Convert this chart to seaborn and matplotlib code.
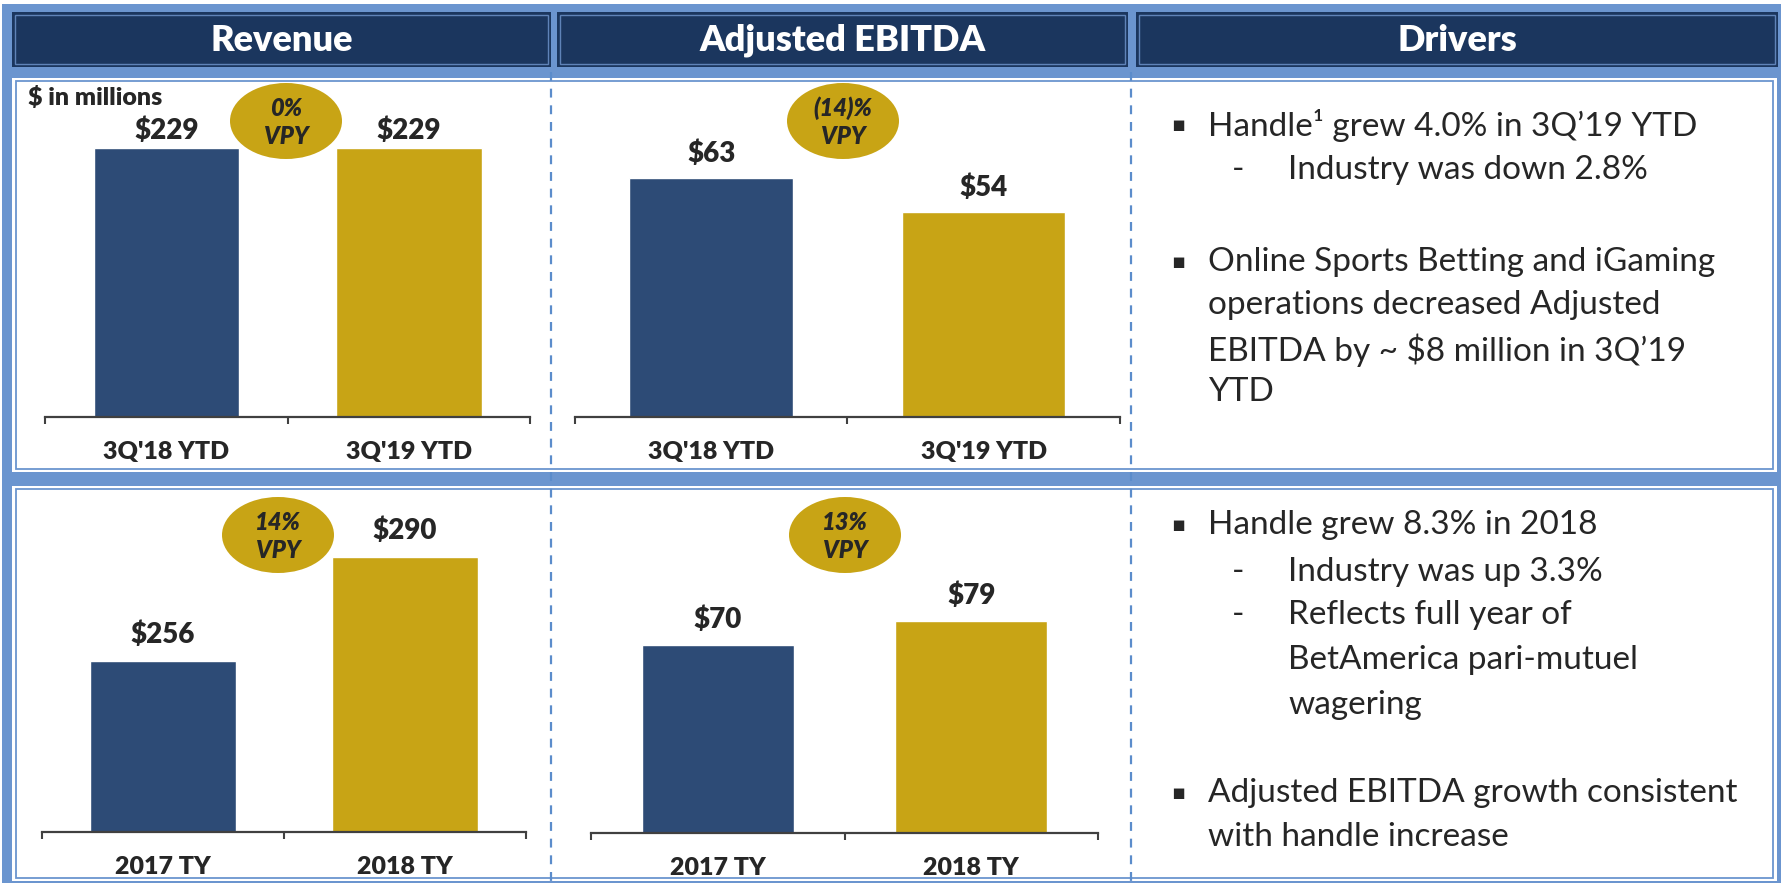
import pandas as pd
import seaborn as sns
import matplotlib.pyplot as plt
from matplotlib.patches import Rectangle, Ellipse

#---------------------------------DATA---------------------------------#
ytd_periods = ["3Q'18 YTD", "3Q'19 YTD"]
ytd_revenue = [229, 229]
ytd_ebitda = [63, 54]

ty_periods = ["2017 TY", "2018 TY"]
ty_revenue = [256, 290]
ty_ebitda = [70, 79]

vpy_labels = ["0%", "(14)%", "14%", "13%"]
headers = ["Revenue", "Adjusted EBITDA", "Drivers"]

drivers_top = [("b", "Handle\u00b9 grew 4.0% in 3Q\u201919 YTD"),
               ("d", "Industry was down 2.8%"),
               ("b", "Online Sports Betting and iGaming"),
               ("c", "operations decreased Adjusted"),
               ("c", "EBITDA by ~ $8 million in 3Q\u201919"),
               ("c", "YTD")]
drivers_bottom = [("b", "Handle grew 8.3% in 2018"),
                  ("d", "Industry was up 3.3%"),
                  ("d", "Reflects full year of"),
                  ("dc", "BetAmerica pari-mutuel"),
                  ("dc", "wagering"),
                  ("b", "Adjusted EBITDA growth consistent"),
                  ("c", "with handle increase")]

#--------------------------------STYLE---------------------------------#
sns.set_style('white')
plt.rcParams['font.family'] = ['Lato', 'DejaVu Sans']

NAVY = '#1b365e'
BLUE = '#2d4b76'
GOLD = '#c8a415'
LIGHT = '#6b95cf'
AXIS = '#404040'
HEAVY = 'heavy'

W, H = 1783, 886
fig = plt.figure(figsize=(W / 100, H / 100), dpi=100)


def px_rect(x0, y0, x1, y1):
    return [x0 / W, 1 - y1 / H, (x1 - x0) / W, (y1 - y0) / H]


# background layer in pixel coords
bg = fig.add_axes([0, 0, 1, 1], zorder=0, label='bg')
bg.set_xlim(0, W)
bg.set_ylim(H, 0)
bg.axis('off')

bg.add_patch(Rectangle((2, 4), W - 4, H - 7, color=LIGHT, lw=0))
for (x0, x1), name in zip([(12, 551), (557, 1128), (1136, 1778)], headers):
    bg.add_patch(Rectangle((x0, 12), x1 - x0, 55, color=NAVY, lw=0))
    bg.add_patch(Rectangle((x0 + 3, 15), x1 - x0 - 6, 49, fill=False,
                           ec='#5f83b8', lw=1))
    bg.text((x0 + x1) / 2, 40, name, color='white', fontsize=26,
            fontweight=HEAVY, ha='center', va='center')

for y0, y1 in [(78, 472), (486, 881)]:
    bg.add_patch(Rectangle((12, y0), 1765, y1 - y0, color='white', lw=0))
    bg.add_patch(Rectangle((16, y0 + 3), 1757, y1 - y0 - 6, fill=False,
                           ec=LIGHT, lw=1.3))

for x in [551, 1131]:
    bg.plot([x, x], [72, 882], color='#5b8ccb', lw=1.6,
            linestyle=(0, (4, 3.5)))

#--------------------------------CHARTS--------------------------------#
# (categories, values, axes box in px, y limits, label padding)
charts = [
    (ytd_periods, ytd_revenue, (45, 100, 530, 417), (0, 317 / 1.1747), 3),
    (ytd_periods, ytd_ebitda, (575, 100, 1120, 417), (0, 317 / 3.794), 8),
    (ty_periods, ty_revenue, (42, 500, 526, 832), (200, 200 + 332 / 3.06), 9),
    (ty_periods, ty_ebitda, (591, 500, 1098, 833), (0, 333 / 2.683), 9),
]

for cats, vals, box, ylim, pad in charts:
    ax = fig.add_axes(px_rect(*box), zorder=2)
    ax.patch.set_alpha(0)
    df = pd.DataFrame({'period': cats, 'value': vals})
    sns.barplot(data=df, x='period', y='value', hue='period',
                palette=[BLUE, GOLD], width=0.6, ax=ax, legend=False,
                saturation=1)
    ax.set_xlim(-0.5, 1.5)
    ax.set_ylim(*ylim)
    for c in ax.containers:
        ax.bar_label(c, labels=['$%d' % v for v in c.datavalues],
                     padding=pad, fontsize=20, fontweight=HEAVY)
    sns.despine(ax=ax, left=True)
    ax.spines['bottom'].set_color(AXIS)
    ax.spines['bottom'].set_linewidth(1.6)
    ax.set_yticks([])
    ax.set_xlabel('')
    ax.set_ylabel('')
    ax.set_xticks([-0.5, 0.5, 1.5], minor=True)
    ax.tick_params(axis='x', which='minor', length=5, width=1.5,
                   color=AXIS, direction='out', bottom=True)
    ax.tick_params(axis='x', which='major', length=0, pad=17)
    for t in ax.get_xticklabels():
        t.set_fontsize(18)
        t.set_fontweight(HEAVY)

#--------------------------------OVERLAY-------------------------------#
fg = fig.add_axes([0, 0, 1, 1], zorder=5, label='fg')
fg.set_xlim(0, W)
fg.set_ylim(H, 0)
fg.axis('off')
fg.patch.set_alpha(0)

for (cx, cy), lab in zip([(286, 121), (843, 121), (278, 535), (845, 535)],
                         vpy_labels):
    fg.add_patch(Ellipse((cx, cy), 112, 76, color=GOLD, lw=0))
    fg.text(cx, cy - 13, lab, fontsize=17, fontweight=HEAVY,
            fontstyle='italic', ha='center', va='center')
    fg.text(cx, cy + 15, 'VPY', fontsize=17, fontweight=HEAVY,
            fontstyle='italic', ha='center', va='center')

fg.text(28, 97, '$ in millions', fontsize=18, fontweight=HEAVY,
        ha='left', va='center')


def draw_drivers(lines, ys):
    for (kind, txt), y in zip(lines, ys):
        if kind == 'b':
            fg.text(1178, y, '\u25aa', fontsize=15, ha='center',
                    va='center', family='DejaVu Sans')
            fg.text(1208, y, txt, fontsize=24, ha='left', va='center')
        elif kind == 'd':
            fg.text(1238, y, '-', fontsize=24, ha='center', va='center')
            fg.text(1288, y, txt, fontsize=24, ha='left', va='center')
        elif kind == 'dc':
            fg.text(1288, y, txt, fontsize=24, ha='left', va='center')
        else:
            fg.text(1208, y, txt, fontsize=24, ha='left', va='center')


draw_drivers(drivers_top, [125, 170, 262, 305, 350, 392])
draw_drivers(drivers_bottom, [525, 572, 615, 660, 705, 793, 837])

fig.savefig('out.png', dpi=100)
